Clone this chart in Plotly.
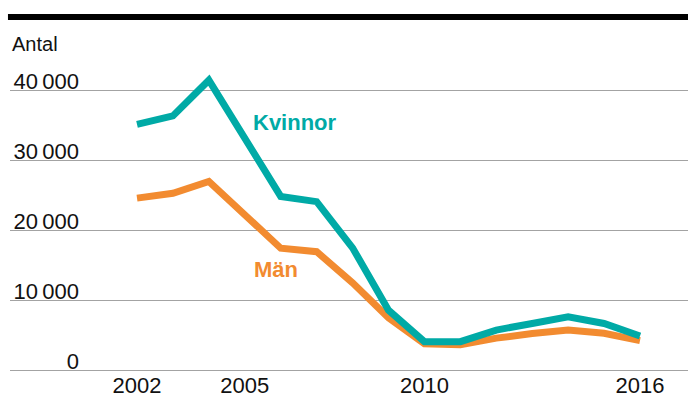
import plotly.graph_objects as go

# Yearly counts, 2002-2016
years = list(range(2002, 2017))
kvinnor = [35100, 36300, 41400, 33300, 24800, 24050, 17450, 8550, 4050,
           4050, 5700, 6650, 7600, 6650, 4850]
man = [24550, 25250, 26950, 22100, 17400, 16900, 12450, 7450, 3750,
       3600, 4550, 5200, 5700, 5250, 4200]

y_ticks = [0, 10000, 20000, 30000, 40000]
x_ticks = [2002, 2005, 2010, 2016]

TEAL = "#00aaa6"
ORANGE = "#f28b30"
FONT = "Liberation Sans, Arial, sans-serif"

y_range = [-428.6, 45714]

fig = go.Figure()
fig.add_trace(go.Scatter(x=years, y=man, mode="lines", name="Män",
                         line=dict(color=ORANGE, width=7), yaxis="y"))
fig.add_trace(go.Scatter(x=years, y=kvinnor, mode="lines", name="Kvinnor",
                         line=dict(color=TEAL, width=7), yaxis="y2"))

fig.update_layout(
    width=688, height=401,
    margin=dict(l=10, r=0, t=50, b=28),
    paper_bgcolor="white", plot_bgcolor="white",
    showlegend=False,
    separators=".\u2009",
    font=dict(family=FONT, size=22, color="#111111"),
    xaxis=dict(
        range=[1998.465, 2017.336],
        tickvals=x_ticks, tickformat="d",
        showgrid=False, zeroline=False, showline=False,
        ticks="", ticklabelstandoff=-3, automargin=False,
        tickfont=dict(size=22),
    ),
    # gridlines across the full width
    yaxis=dict(
        range=y_range, tickvals=y_ticks,
        showgrid=True, gridcolor="#a3a3a3", gridwidth=1,
        zeroline=False, showline=False, showticklabels=False,
        automargin=False,
    ),
    # tick labels sit above their gridlines, right-aligned
    yaxis2=dict(
        range=y_range, tickvals=y_ticks, tickformat=",d",
        overlaying="y", anchor="free", position=0.1018,
        side="left", showgrid=False, zeroline=False, showline=False,
        ticks="", ticklabelposition="outside top", ticklabelshift=7,
        automargin=False,
        tickfont=dict(size=22),
    ),
)

# heavy rule along the top
fig.add_shape(type="line", xref="paper", yref="paper",
              x0=-0.003, x1=1, y0=(373 - 17) / 323, y1=(373 - 17) / 323,
              line=dict(color="black", width=6))

fig.add_annotation(text="Antal", xref="paper", yref="paper",
                   x=0, y=(373 - 44) / 323, xanchor="left", yanchor="middle",
                   showarrow=False, font=dict(size=20, color="#111111"))

fig.add_annotation(text="<b>Kvinnor</b>", xref="x", yref="y",
                   x=2006.39, y=35290, xanchor="center", yanchor="middle",
                   showarrow=False, font=dict(size=22, color=TEAL))
fig.add_annotation(text="<b>Män</b>", xref="x", yref="y",
                   x=2005.87, y=14290, xanchor="center", yanchor="middle",
                   showarrow=False, font=dict(size=22, color=ORANGE))

fig.write_html("out.html")
